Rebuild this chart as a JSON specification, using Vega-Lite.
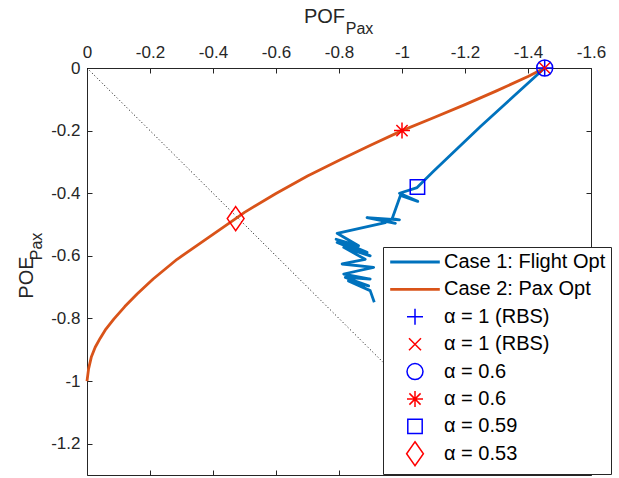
{
  "$schema": "https://vega.github.io/schema/vega-lite/v6.json",
  "width": 504,
  "height": 407,
  "autosize": {"type": "none"},
  "padding": {"left": 87, "top": 68, "right": 28, "bottom": 3},
  "background": "white",
  "config": {
    "view": {"stroke": null},
    "font": "Liberation Sans",
    "axis": {
      "grid": false,
      "domainColor": "#262626",
      "tickColor": "#262626",
      "labelColor": "#262626",
      "titleColor": "#262626",
      "labelFont": "Liberation Sans",
      "titleFont": "Liberation Sans",
      "titleFontWeight": "normal",
      "domainWidth": 1,
      "tickWidth": 1
    }
  },
  "datasets": {
    "diag": [{"x": 0, "y": 0}, {"x": -1.3, "y": -1.3}],
    "lines": [
      {"series": "Case 2: Pax Opt", "i": 1, "x": -1.453, "y": 0},
      {"series": "Case 2: Pax Opt", "i": 2, "x": -1.4, "y": -0.027},
      {"series": "Case 2: Pax Opt", "i": 3, "x": -1.3, "y": -0.073},
      {"series": "Case 2: Pax Opt", "i": 4, "x": -1.2, "y": -0.117},
      {"series": "Case 2: Pax Opt", "i": 5, "x": -1.1, "y": -0.159},
      {"series": "Case 2: Pax Opt", "i": 6, "x": -1.0, "y": -0.2},
      {"series": "Case 2: Pax Opt", "i": 7, "x": -0.9, "y": -0.247},
      {"series": "Case 2: Pax Opt", "i": 8, "x": -0.804, "y": -0.293},
      {"series": "Case 2: Pax Opt", "i": 9, "x": -0.7, "y": -0.345},
      {"series": "Case 2: Pax Opt", "i": 10, "x": -0.6, "y": -0.401},
      {"series": "Case 2: Pax Opt", "i": 11, "x": -0.5, "y": -0.461},
      {"series": "Case 2: Pax Opt", "i": 12, "x": -0.472, "y": -0.481},
      {"series": "Case 2: Pax Opt", "i": 13, "x": -0.376, "y": -0.548},
      {"series": "Case 2: Pax Opt", "i": 14, "x": -0.286, "y": -0.611},
      {"series": "Case 2: Pax Opt", "i": 15, "x": -0.21, "y": -0.674},
      {"series": "Case 2: Pax Opt", "i": 16, "x": -0.159, "y": -0.722},
      {"series": "Case 2: Pax Opt", "i": 17, "x": -0.12, "y": -0.762},
      {"series": "Case 2: Pax Opt", "i": 18, "x": -0.085, "y": -0.802},
      {"series": "Case 2: Pax Opt", "i": 19, "x": -0.06, "y": -0.834},
      {"series": "Case 2: Pax Opt", "i": 20, "x": -0.042, "y": -0.863},
      {"series": "Case 2: Pax Opt", "i": 21, "x": -0.026, "y": -0.892},
      {"series": "Case 2: Pax Opt", "i": 22, "x": -0.014, "y": -0.922},
      {"series": "Case 2: Pax Opt", "i": 23, "x": -0.005, "y": -0.961},
      {"series": "Case 2: Pax Opt", "i": 24, "x": 0, "y": -1.0},
      {"series": "Case 1: Flight Opt", "i": 1, "x": -1.453, "y": 0},
      {"series": "Case 1: Flight Opt", "i": 2, "x": -1.25, "y": -0.186},
      {"series": "Case 1: Flight Opt", "i": 3, "x": -1.1, "y": -0.33},
      {"series": "Case 1: Flight Opt", "i": 4, "x": -1.048, "y": -0.382},
      {"series": "Case 1: Flight Opt", "i": 5, "x": -0.992, "y": -0.4},
      {"series": "Case 1: Flight Opt", "i": 6, "x": -1.05, "y": -0.426},
      {"series": "Case 1: Flight Opt", "i": 7, "x": -0.995, "y": -0.407},
      {"series": "Case 1: Flight Opt", "i": 8, "x": -0.969, "y": -0.481},
      {"series": "Case 1: Flight Opt", "i": 9, "x": -0.992, "y": -0.485},
      {"series": "Case 1: Flight Opt", "i": 10, "x": -0.889, "y": -0.478},
      {"series": "Case 1: Flight Opt", "i": 11, "x": -0.979, "y": -0.496},
      {"series": "Case 1: Flight Opt", "i": 12, "x": -0.926, "y": -0.483},
      {"series": "Case 1: Flight Opt", "i": 13, "x": -0.947, "y": -0.494},
      {"series": "Case 1: Flight Opt", "i": 14, "x": -0.794, "y": -0.528},
      {"series": "Case 1: Flight Opt", "i": 15, "x": -0.862, "y": -0.568},
      {"series": "Case 1: Flight Opt", "i": 16, "x": -0.791, "y": -0.547},
      {"series": "Case 1: Flight Opt", "i": 17, "x": -0.889, "y": -0.589},
      {"series": "Case 1: Flight Opt", "i": 18, "x": -0.794, "y": -0.557},
      {"series": "Case 1: Flight Opt", "i": 19, "x": -0.899, "y": -0.6},
      {"series": "Case 1: Flight Opt", "i": 20, "x": -0.815, "y": -0.573},
      {"series": "Case 1: Flight Opt", "i": 21, "x": -0.883, "y": -0.611},
      {"series": "Case 1: Flight Opt", "i": 22, "x": -0.81, "y": -0.626},
      {"series": "Case 1: Flight Opt", "i": 23, "x": -0.91, "y": -0.637},
      {"series": "Case 1: Flight Opt", "i": 24, "x": -0.815, "y": -0.658},
      {"series": "Case 1: Flight Opt", "i": 25, "x": -0.899, "y": -0.674},
      {"series": "Case 1: Flight Opt", "i": 26, "x": -0.82, "y": -0.669},
      {"series": "Case 1: Flight Opt", "i": 27, "x": -0.894, "y": -0.696},
      {"series": "Case 1: Flight Opt", "i": 28, "x": -0.83, "y": -0.68},
      {"series": "Case 1: Flight Opt", "i": 29, "x": -0.899, "y": -0.711},
      {"series": "Case 1: Flight Opt", "i": 30, "x": -0.912, "y": -0.748}
    ],
    "points": [
      {"series": "α = 1 (RBS)", "x": -1.453, "y": 0},
      {"series": "α = 1 (RBS)\u200b", "x": -1.453, "y": 0},
      {"series": "α = 0.6", "x": -1.453, "y": 0},
      {"series": "α = 0.6\u200b", "x": -1.0, "y": -0.2},
      {"series": "α = 0.59", "x": -1.049, "y": -0.38},
      {"series": "α = 0.53", "x": -0.472, "y": -0.481}
    ]
  },
  "resolve": {"axis": {"x": "independent", "y": "independent"}},
  "layer": [
    {
      "data": {"name": "diag"},
      "mark": {"type": "line", "color": "#000000", "strokeWidth": 1, "strokeDash": [1, 2.5]},
      "encoding": {
        "x": {
          "field": "x", "type": "quantitative",
          "scale": {"domain": [-1.6, 0], "reverse": true, "nice": false, "zero": false},
          "axis": {
            "orient": "top",
            "values": [0, -0.2, -0.4, -0.6, -0.8, -1, -1.2, -1.4, -1.6],
            "labelExpr": "datum.value == 0 ? '0' : '-' + format(-datum.value, '~g')",
            "labelFontSize": 17,
            "labelBaseline": "alphabetic",
            "tickSize": -5,
            "labelPadding": 16,
            "labelFlush": false,
            "title": "POF",
            "titleFontSize": 20,
            "titleAlign": "center",
            "titleBaseline": "alphabetic",
            "titleX": 237,
            "titleY": -46
          }
        },
        "y": {
          "field": "y", "type": "quantitative",
          "scale": {"domain": [-1.3, 0], "nice": false, "zero": false},
          "axis": {
            "orient": "left",
            "values": [0, -0.2, -0.4, -0.6, -0.8, -1, -1.2],
            "labelExpr": "datum.value == 0 ? '0' : '-' + format(-datum.value, '~g')",
            "labelFontSize": 17,
            "tickSize": -5,
            "labelPadding": 12,
            "labelFlush": false,
            "title": "POE",
            "titleFontSize": 20,
            "titleAngle": 270,
            "titleAlign": "center",
            "titleBaseline": "alphabetic",
            "titleX": -55,
            "titleY": 209
          }
        }
      }
    },
    {
      "data": {"name": "lines"},
      "mark": {"type": "line", "strokeWidth": 2.8, "strokeJoin": "round"},
      "encoding": {
        "x": {
          "field": "x", "type": "quantitative",
          "axis": {"orient": "bottom", "labels": false, "title": null, "tickSize": -5,
                   "values": [0, -0.2, -0.4, -0.6, -0.8, -1, -1.2, -1.4, -1.6]}
        },
        "y": {
          "field": "y", "type": "quantitative",
          "axis": {"orient": "right", "labels": false, "title": null, "tickSize": -5,
                   "values": [0, -0.2, -0.4, -0.6, -0.8, -1, -1.2]}
        },
        "order": {"field": "i", "type": "quantitative"},
        "color": {
          "field": "series", "type": "nominal",
          "scale": {
            "domain": ["Case 1: Flight Opt", "Case 2: Pax Opt", "α = 1 (RBS)", "α = 1 (RBS)\u200b", "α = 0.6", "α = 0.6\u200b", "α = 0.59", "α = 0.53"],
            "range": ["#0072BD", "#D95319", "#0000FF", "#FF0000", "#0000FF", "#FF0000", "#0000FF", "#FF0000"]
          },
          "legend": {
            "title": null,
            "orient": "none",
            "legendX": 296,
            "legendY": 179,
            "labelFontSize": 20,
            "labelLimit": 400,
            "labelColor": "#000000",
            "labelFont": "Liberation Sans",
            "symbolSize": 256,
            "symbolOffset": 17,
            "labelOffset": 19,
            "gridAlign": "all",
            "rowPadding": -2.6,
            "padding": 5,
            "strokeColor": "#262626",
            "fillColor": "white",
            "cornerRadius": 0,
            "encode": {
              "symbols": {
                "update": {
                  "strokeWidth": {"signal": "indexof(['Case 1: Flight Opt','Case 2: Pax Opt'], datum.value) >= 0 ? 2.8 : 1.5"},
                  "fill": {"value": "transparent"}
                }
              }
            }
          }
        }
      }
    },
    {
      "data": {"name": "points"},
      "mark": {"type": "point", "filled": false, "size": 256, "strokeWidth": 1.5, "opacity": 1},
      "encoding": {
        "x": {
          "field": "x", "type": "quantitative",
          "axis": {"orient": "top", "labels": false, "ticks": false, "domain": false,
                   "title": "Pax", "titleFontSize": 16, "titleAlign": "center", "titleBaseline": "alphabetic",
                   "titleX": 272, "titleY": -35}
        },
        "y": {
          "field": "y", "type": "quantitative",
          "axis": {"orient": "left", "labels": false, "ticks": false, "domain": false,
                   "title": "Pax", "titleFontSize": 16, "titleAngle": 270, "titleAlign": "center", "titleBaseline": "alphabetic",
                   "titleX": -46, "titleY": 178}
        },
        "color": {"field": "series", "type": "nominal"},
        "shape": {
          "field": "series", "type": "nominal",
          "scale": {
            "domain": ["Case 1: Flight Opt", "Case 2: Pax Opt", "α = 1 (RBS)", "α = 1 (RBS)\u200b", "α = 0.6", "α = 0.6\u200b", "α = 0.59", "α = 0.53"],
            "range": [
              "M-3.1,0L3.1,0",
              "M-3.1,0L3.1,0",
              "M-1,0L1,0M0,-1L0,1",
              "M-0.75,-0.75L0.75,0.75M-0.75,0.75L0.75,-0.75",
              "circle",
              "M-1,0L1,0M0,-1L0,1M-0.7,-0.7L0.7,0.7M-0.7,0.7L0.7,-0.7",
              "M-0.9,-0.9L0.9,-0.9L0.9,0.9L-0.9,0.9Z",
              "M0,-1.5L1.05,0L0,1.5L-1.05,0Z"
            ]
          },
          "legend": {"title": null}
        }
      }
    }
  ]
}
